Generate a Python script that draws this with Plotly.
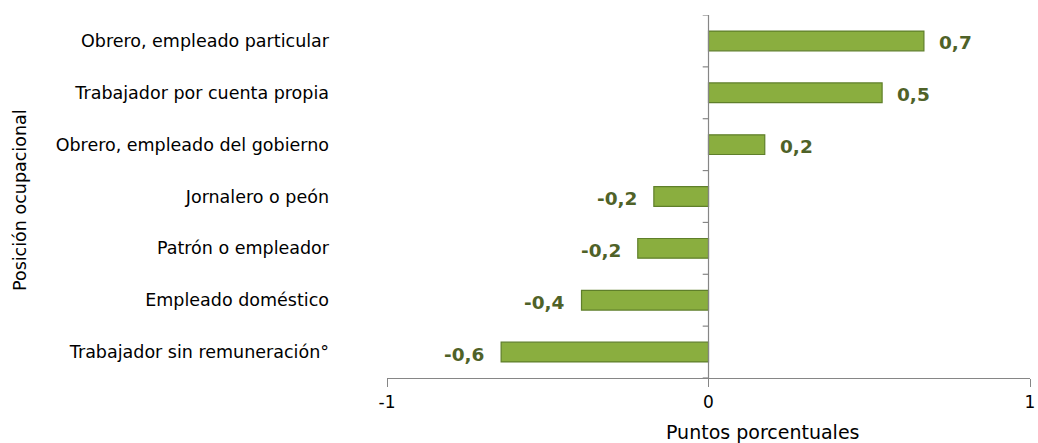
import plotly.graph_objects as go

categorias = [
    "Trabajador sin remuneración°",
    "Empleado doméstico",
    "Patrón o empleador",
    "Jornalero o peón",
    "Obrero, empleado del gobierno",
    "Trabajador por cuenta propia",
    "Obrero, empleado particular",
]
valores = [-0.645, -0.395, -0.22, -0.17, 0.175, 0.54, 0.67]
etiquetas = [f"{v:.1f}".replace(".", ",") for v in valores]

FONT = "'DejaVu Sans', sans-serif"
LABEL_COLOR = "#4F6228"
AXIS_COLOR = "#868686"

fig = go.Figure()
fig.add_trace(go.Bar(
    x=valores, y=categorias, orientation="h",
    width=0.38,
    marker=dict(color="#8AAE3F", line=dict(color="#5F7F2A", width=1.2)),
    hoverinfo="skip",
))

# value labels
for c, v, t in zip(categorias, valores, etiquetas):
    fig.add_annotation(
        x=v, y=c, text=f"<b>{t}</b>", showarrow=False,
        xanchor="left" if v >= 0 else "right",
        xshift=13 if v >= 0 else -15, yshift=-2,
        font=dict(family=FONT, size=18.5, color=LABEL_COLOR),
    )

# vertical axis line at zero with tick marks between categories
n = len(categorias)
fig.add_shape(type="line", xref="x", yref="y", x0=0, x1=0, y0=-0.5, y1=n - 0.5,
              line=dict(color=AXIS_COLOR, width=1.2))
for i in range(n + 1):
    fig.add_shape(type="line", xref="x", yref="y", x0=-0.018, x1=0,
                  y0=i - 0.5, y1=i - 0.5, line=dict(color=AXIS_COLOR, width=1.2))

# axis titles
fig.add_annotation(text="Puntos porcentuales", xref="paper", yref="paper",
                   x=(762 - 387) / 643, y=-(432 - 378) / 363,
                   xanchor="center", yanchor="middle", showarrow=False,
                   font=dict(family=FONT, size=19, color="#000000"))
fig.add_annotation(text="Posición ocupacional", xref="paper", yref="paper",
                   x=(20 - 387) / 643, y=(378 - 200) / 363, textangle=-90,
                   xanchor="center", yanchor="middle", showarrow=False,
                   font=dict(family=FONT, size=17.5, color="#000000"))

fig.update_layout(
    width=1038, height=443,
    margin=dict(l=387, r=8, t=15, b=65),
    paper_bgcolor="white", plot_bgcolor="white",
    showlegend=False,
    font=dict(family=FONT, size=15, color="#000000"),
    xaxis=dict(
        range=[-1, 1], tickvals=[-1, 0, 1], ticktext=["-1", "0", "1"],
        showgrid=False, zeroline=False, automargin=False,
        showline=True, linecolor=AXIS_COLOR, linewidth=1.2,
        ticks="outside", ticklen=8, tickcolor=AXIS_COLOR, tickwidth=1.2,
        ticklabeloverflow="allow",
        tickfont=dict(family=FONT, size=17, color="#000000"),
        fixedrange=True,
    ),
    yaxis=dict(
        range=[-0.5, n - 0.5], showgrid=False, zeroline=False,
        showline=False, ticks="", automargin=False,
        ticklabelstandoff=57,
        tickfont=dict(family=FONT, size=17.5, color="#000000"),
        fixedrange=True,
    ),
)

fig.write_html(
    "out.html",
    config={"displayModeBar": False},
    post_script="document.body.style.margin='0';document.body.style.overflow='hidden';",
)
